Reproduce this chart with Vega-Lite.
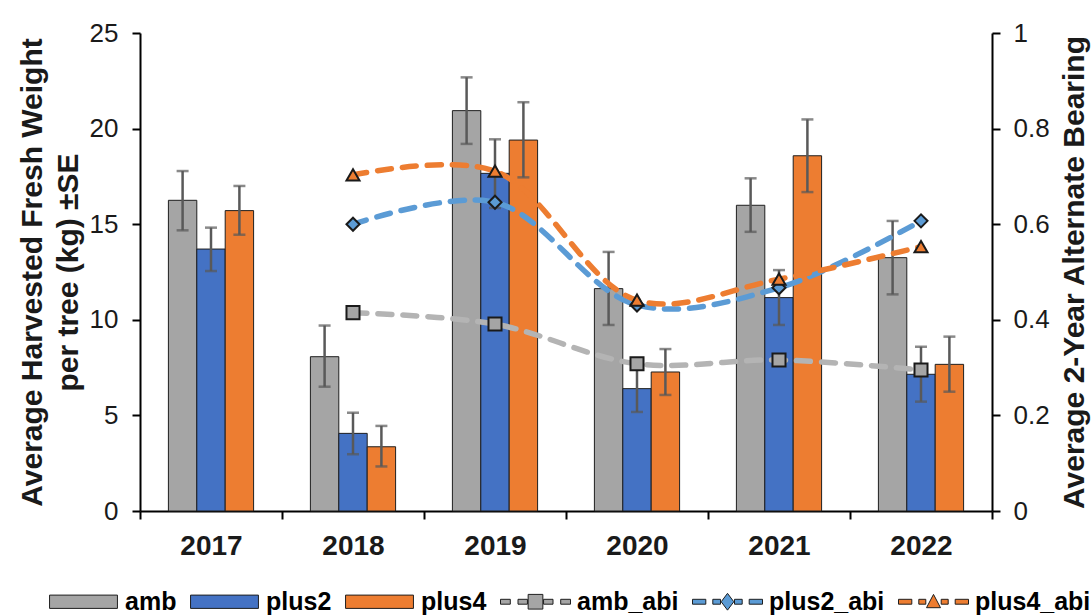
{
  "$schema": "https://vega.github.io/schema/vega-lite/v6.json",
  "width": 852,
  "height": 478,
  "autosize": {"type": "none"},
  "padding": {"left": 140, "top": 33, "right": 100, "bottom": 105},
  "background": "white",
  "config": {
    "view": {"stroke": null},
    "font": "Liberation Sans",
    "axis": {
      "domainColor": "#000000",
      "domainWidth": 2,
      "tickColor": "#000000",
      "tickWidth": 2,
      "tickSize": 8,
      "grid": false,
      "labelFont": "Liberation Sans",
      "labelColor": "#1a1a1a",
      "titleFont": "Liberation Sans",
      "titleColor": "#1a1a1a",
      "titleFontWeight": "bold"
    },
    "legend": {
      "orient": "none",
      "legendX": -92,
      "legendY": 533,
      "direction": "horizontal",
      "columns": 6,
      "padding": 0,
      "symbolSize": 4900,
      "symbolStrokeWidth": 1,
      "symbolFillColor": "#A5A5A5",
      "symbolStrokeColor": "#1f1f1f",
      "symbolOpacity": 1,
      "columnPadding": 11,
      "labelOffset": 6,
      "labelFont": "Liberation Sans",
      "labelFontSize": 25,
      "labelFontWeight": "bold",
      "labelColor": "#000000",
      "labelLimit": 300
    }
  },
  "datasets": {
    "harvest": [
      {"year": "2017", "series": "amb", "kg": 16.25, "lo": 14.68, "hi": 17.78},
      {"year": "2017", "series": "plus2", "kg": 13.7, "lo": 12.55, "hi": 14.82},
      {"year": "2017", "series": "plus4", "kg": 15.71, "lo": 14.45, "hi": 17.0},
      {"year": "2018", "series": "amb", "kg": 8.07, "lo": 6.5, "hi": 9.7},
      {"year": "2018", "series": "plus2", "kg": 4.06, "lo": 2.97, "hi": 5.14},
      {"year": "2018", "series": "plus4", "kg": 3.36, "lo": 2.33, "hi": 4.45},
      {"year": "2019", "series": "amb", "kg": 20.94, "lo": 19.2, "hi": 22.68},
      {"year": "2019", "series": "plus2", "kg": 17.66, "lo": 15.85, "hi": 19.44},
      {"year": "2019", "series": "plus4", "kg": 19.4, "lo": 17.45, "hi": 21.38},
      {"year": "2020", "series": "amb", "kg": 11.63, "lo": 9.73, "hi": 13.55},
      {"year": "2020", "series": "plus2", "kg": 6.4, "lo": 5.18, "hi": 7.62},
      {"year": "2020", "series": "plus4", "kg": 7.27, "lo": 6.07, "hi": 8.47},
      {"year": "2021", "series": "amb", "kg": 15.99, "lo": 14.6, "hi": 17.4},
      {"year": "2021", "series": "plus2", "kg": 11.16, "lo": 9.73, "hi": 12.6},
      {"year": "2021", "series": "plus4", "kg": 18.58, "lo": 16.68, "hi": 20.48},
      {"year": "2022", "series": "amb", "kg": 13.25, "lo": 11.33, "hi": 15.17},
      {"year": "2022", "series": "plus2", "kg": 7.15, "lo": 5.72, "hi": 8.59},
      {"year": "2022", "series": "plus4", "kg": 7.67, "lo": 6.24, "hi": 9.12}
    ],
    "bearing": [
      {"year": "2018", "series": "amb_abi", "abi": 0.415},
      {"year": "2019", "series": "amb_abi", "abi": 0.391},
      {"year": "2020", "series": "amb_abi", "abi": 0.308},
      {"year": "2021", "series": "amb_abi", "abi": 0.316},
      {"year": "2022", "series": "amb_abi", "abi": 0.295},
      {"year": "2018", "series": "plus2_abi", "abi": 0.6},
      {"year": "2019", "series": "plus2_abi", "abi": 0.646},
      {"year": "2020", "series": "plus2_abi", "abi": 0.431},
      {"year": "2021", "series": "plus2_abi", "abi": 0.467},
      {"year": "2022", "series": "plus2_abi", "abi": 0.607},
      {"year": "2018", "series": "plus4_abi", "abi": 0.703},
      {"year": "2019", "series": "plus4_abi", "abi": 0.711},
      {"year": "2020", "series": "plus4_abi", "abi": 0.441},
      {"year": "2021", "series": "plus4_abi", "abi": 0.485},
      {"year": "2022", "series": "plus4_abi", "abi": 0.553}
    ]
  },
  "layer": [
    {
      "data": {"name": "harvest"},
      "encoding": {
        "x": {
          "field": "year",
          "type": "nominal",
          "scale": {"paddingInner": 0, "paddingOuter": 0},
          "axis": {
            "title": null,
            "labelAngle": 0,
            "tickBand": "extent",
            "labelFontSize": 28,
            "labelFontWeight": "bold",
            "labelPadding": 13
          }
        },
        "xOffset": {
          "field": "series",
          "type": "nominal",
          "scale": {"domain": ["amb", "plus2", "plus4"], "paddingInner": 0, "paddingOuter": 1.13}
        }
      },
      "layer": [
        {
          "mark": {"type": "bar", "stroke": "#1f1f1f", "strokeWidth": 1},
          "encoding": {
            "y": {
              "field": "kg",
              "type": "quantitative",
              "scale": {"domain": [0, 25], "nice": false},
              "axis": {
                "orient": "left",
                "values": [0, 5, 10, 15, 20, 25],
                "labelFontSize": 26,
                "labelPadding": 14,
                "title": ["Average Harvested Fresh Weight", "per tree (kg) ±SE"],
                "titleFontSize": 30,
                "titleLineHeight": 36,
                "titlePadding": 6
              }
            },
            "fill": {
              "field": "series",
              "type": "nominal",
              "scale": {
                "domain": ["amb", "plus2", "plus4"],
                "range": ["#A5A5A5", "#4472C4", "#ED7D31"]
              },
              "legend": null
            }
          }
        },
        {
          "mark": {"type": "rule", "color": "#595959", "strokeWidth": 2.5},
          "encoding": {
            "y": {"field": "lo", "type": "quantitative"},
            "y2": {"field": "hi"}
          }
        },
        {
          "mark": {"type": "tick", "color": "#595959", "thickness": 2.5, "size": 12, "orient": "horizontal"},
          "encoding": {"y": {"field": "lo", "type": "quantitative"}}
        },
        {
          "mark": {"type": "tick", "color": "#595959", "thickness": 2.5, "size": 12, "orient": "horizontal"},
          "encoding": {"y": {"field": "hi", "type": "quantitative"}}
        },
        {
          "description": "Zero-size key symbols: carries the shared legend for bars and bearing lines",
          "mark": {"type": "point", "filled": true, "size": 0, "stroke": "#1f1f1f", "strokeWidth": 1, "opacity": 1},
          "encoding": {
            "y": {"field": "kg", "type": "quantitative"},
            "color": {
              "field": "series",
              "type": "nominal",
              "scale": {
                "domain": ["amb", "plus2", "plus4", "amb_abi", "plus2_abi", "plus4_abi"],
                "range": ["#A5A5A5", "#4472C4", "#ED7D31", "#A5A5A5", "#5B9BD5", "#ED7D31"]
              },
              "legend": {"title": null}
            },
            "shape": {
              "field": "series",
              "type": "nominal",
              "scale": {
                "domain": ["amb", "plus2", "plus4", "amb_abi", "plus2_abi", "plus4_abi"],
                "range": [
                  "M-0.97,-0.19H0.97V0.19H-0.97Z",
                  "M-0.97,-0.19H0.97V0.19H-0.97Z",
                  "M-0.97,-0.19H0.97V0.19H-0.97Z",
                  "M-1,-0.07H-0.72V0.07H-1Z M-0.5,-0.07H-0.23V0.07H-0.5Z M-0.21,-0.21H0.21V0.21H-0.21Z M0.23,-0.07H0.5V0.07H0.23Z M0.72,-0.07H1V0.07H0.72Z",
                  "M-1,-0.07H-0.62V0.07H-1Z M-0.42,-0.07H-0.2V0.07H-0.42Z M0,-0.24L0.18,0L0,0.24L-0.18,0Z M0.2,-0.07H0.42V0.07H0.2Z M0.62,-0.07H1V0.07H0.62Z",
                  "M-1,-0.07H-0.62V0.07H-1Z M-0.42,-0.07H-0.22V0.07H-0.42Z M0,-0.21L0.2,0.17H-0.2Z M0.22,-0.07H0.42V0.07H0.22Z M0.62,-0.07H1V0.07H0.62Z"
                ]
              },
              "legend": {"title": null}
            }
          }
        }
      ]
    },
    {
      "data": {"name": "bearing"},
      "encoding": {
        "x": {"field": "year", "type": "nominal"},
        "y": {
          "field": "abi",
          "type": "quantitative",
          "scale": {"domain": [0, 1], "nice": false},
          "axis": {
            "orient": "right",
            "values": [0, 0.2, 0.4, 0.6, 0.8, 1],
            "format": "~g",
            "labelFontSize": 26,
            "labelPadding": 13,
            "title": "Average 2-Year Alternate Bearing",
            "titleFontSize": 30,
            "titleAngle": 270,
            "titlePadding": 40
          }
        }
      },
      "layer": [
        {
          "mark": {
            "type": "line",
            "interpolate": "catmull-rom",
            "strokeWidth": 5.5,
            "strokeDash": [14, 11],
            "strokeCap": "round"
          },
          "encoding": {
            "stroke": {
              "field": "series",
              "type": "nominal",
              "scale": {
                "domain": ["amb_abi", "plus2_abi", "plus4_abi"],
                "range": ["#B4B4B4", "#5B9BD5", "#ED7D31"]
              },
              "legend": null
            }
          }
        },
        {
          "transform": [{"filter": "datum.series === 'amb_abi'"}],
          "mark": {"type": "point", "shape": "square", "filled": true, "fill": "#A5A5A5", "stroke": "#1a1a1a", "strokeWidth": 2, "size": 170, "opacity": 1},
          "encoding": {}
        },
        {
          "transform": [{"filter": "datum.series === 'plus2_abi'"}],
          "mark": {"type": "point", "shape": "diamond", "filled": true, "fill": "#5B9BD5", "stroke": "#1a1a1a", "strokeWidth": 2, "size": 170, "opacity": 1},
          "encoding": {}
        },
        {
          "transform": [{"filter": "datum.series === 'plus4_abi'"}],
          "mark": {"type": "point", "shape": "triangle-up", "filled": true, "fill": "#ED7D31", "stroke": "#1a1a1a", "strokeWidth": 2, "size": 170, "opacity": 1},
          "encoding": {}
        }
      ]
    }
  ],
  "resolve": {
    "scale": {"y": "independent"},
    "axis": {"y": "independent"}
  }
}
